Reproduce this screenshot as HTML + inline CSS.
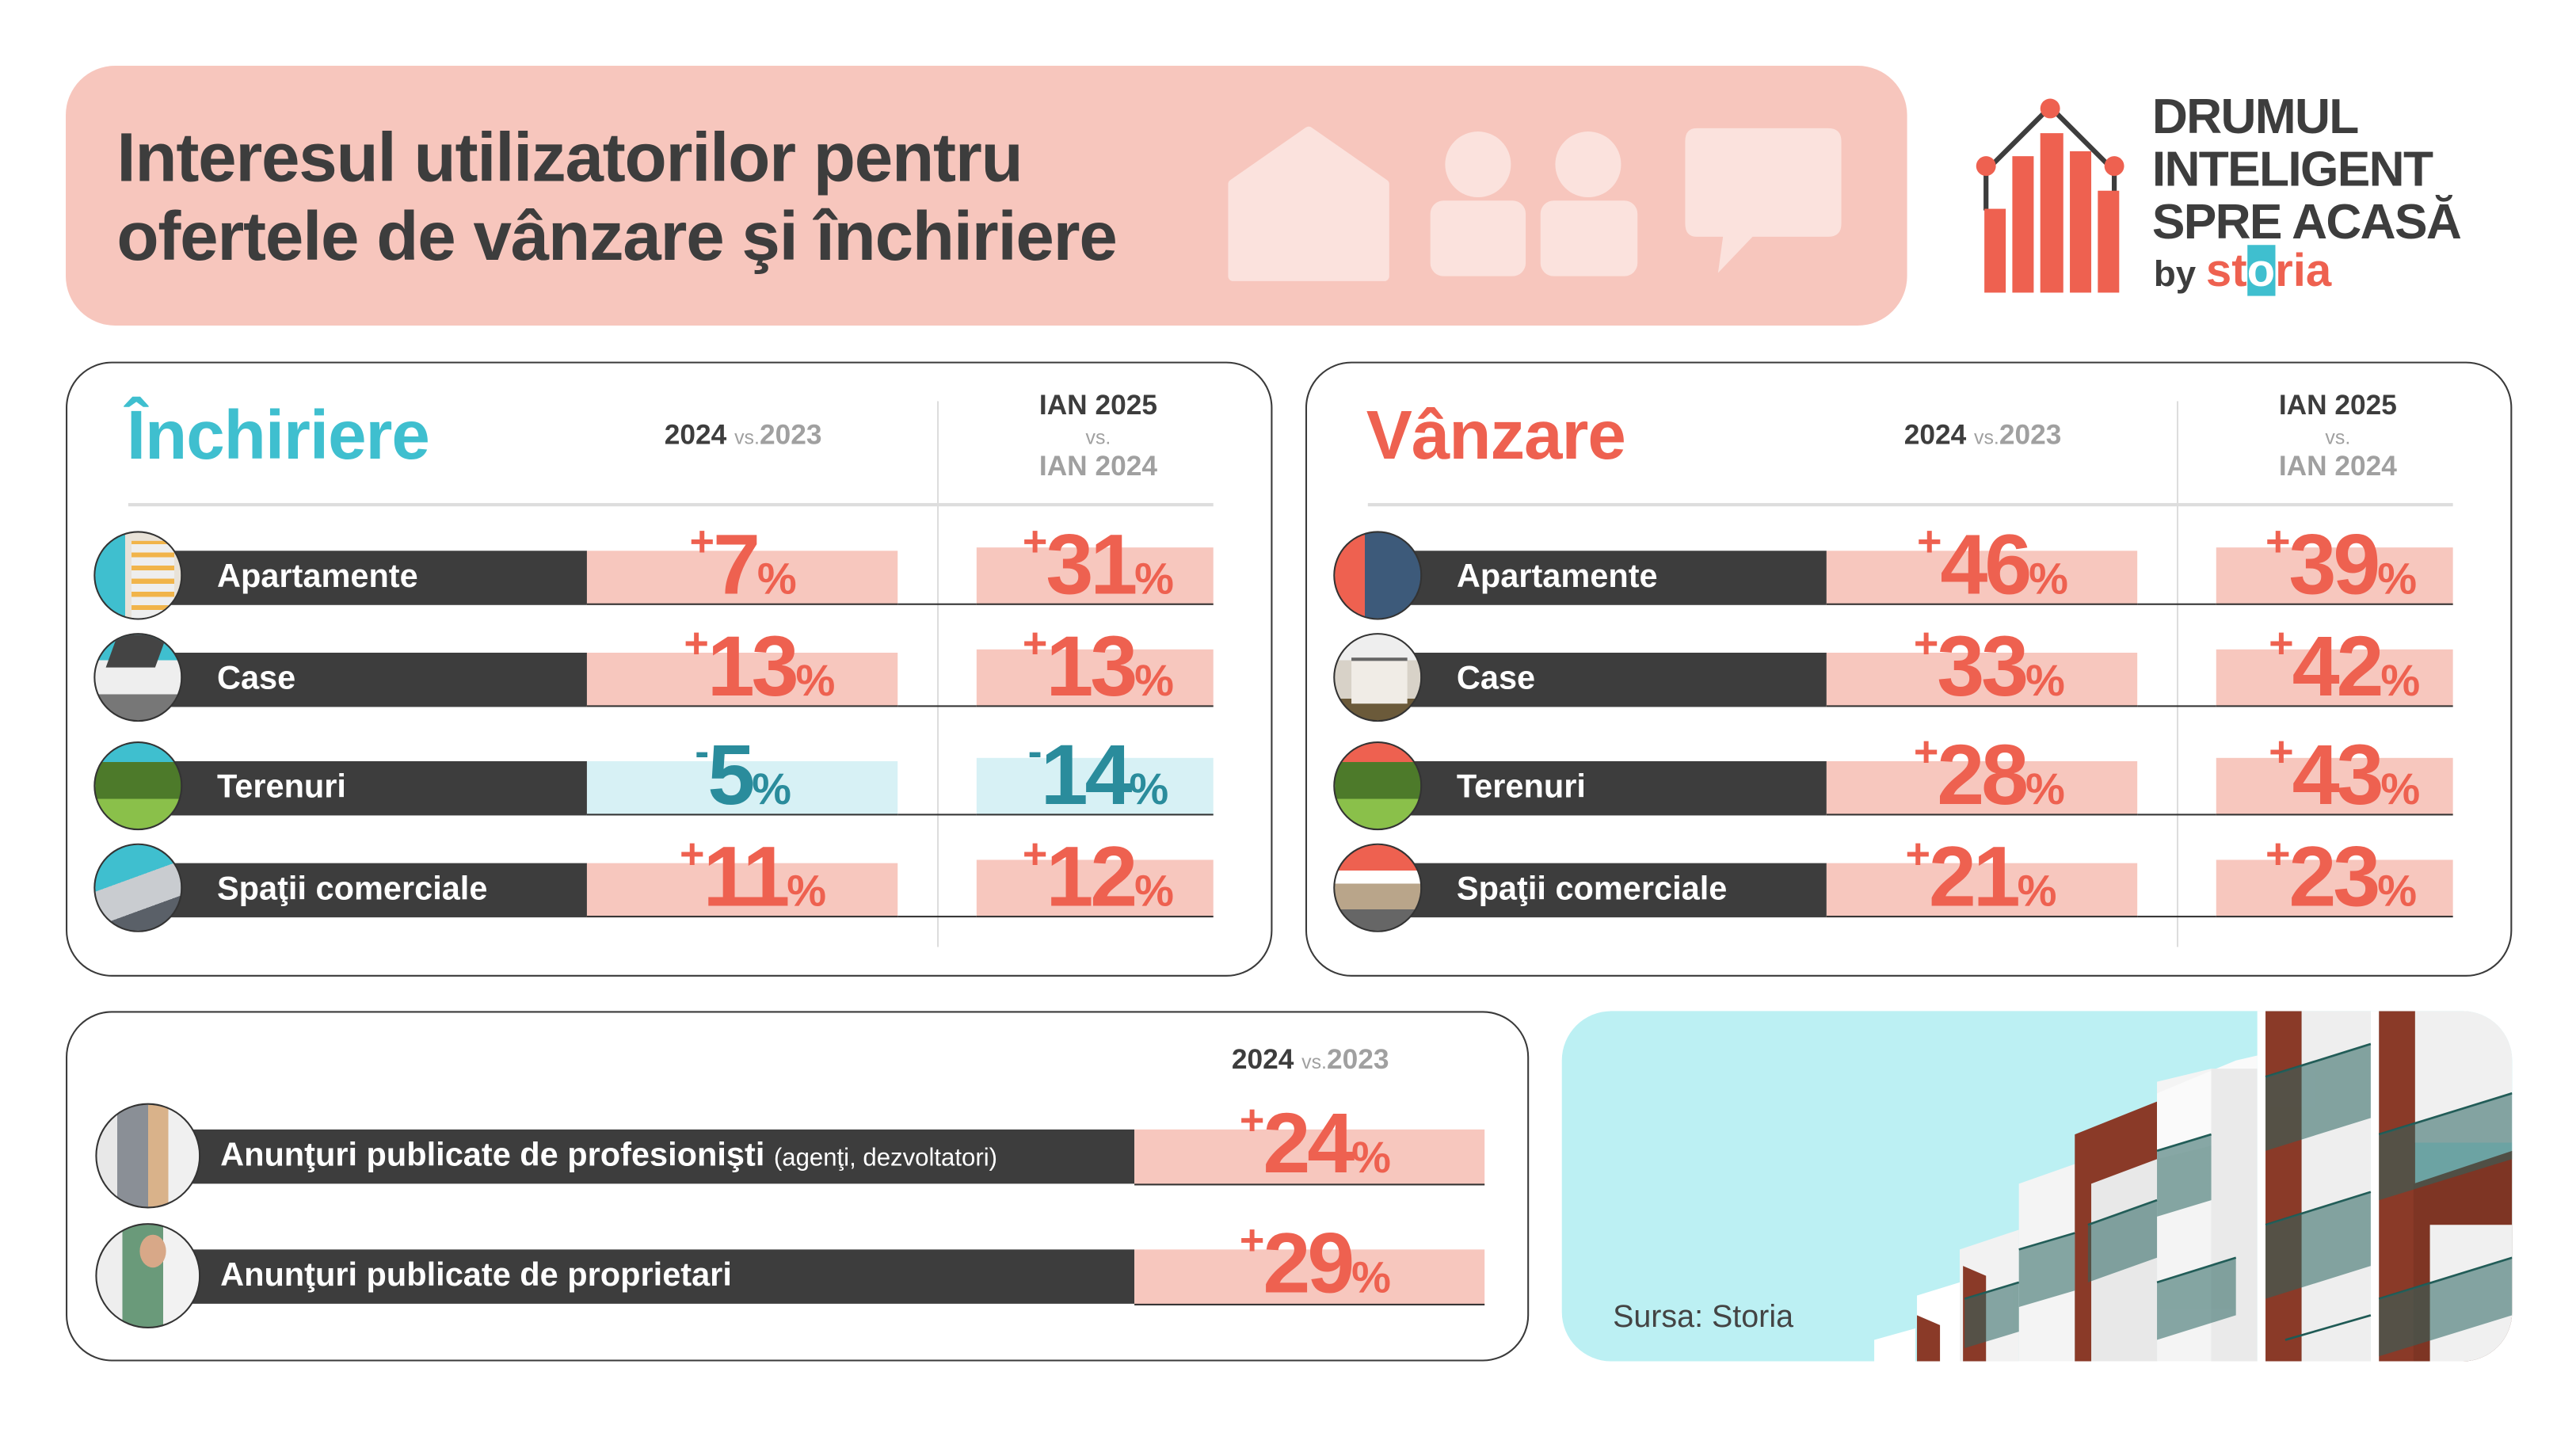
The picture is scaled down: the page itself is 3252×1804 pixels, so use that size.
<!DOCTYPE html>
<html><head><meta charset="utf-8">
<style>
html,body{margin:0;padding:0;background:#fff;}
body{width:3252px;height:1803px;overflow:hidden;position:relative;}
#w{position:absolute;left:0;top:0;width:1567px;height:869px;transform-origin:0 0;transform:scale(2.0755,2.0755);font-family:"Liberation Sans","DejaVu Sans",sans-serif;}
.a{position:absolute;}
.panel{position:absolute;border:1.5px solid #3a3a3a;border-radius:28px;box-sizing:border-box;}
.bar{position:absolute;background:#3d3d3d;height:33px;color:#fff;font-weight:bold;font-size:20px;line-height:33px;padding-left:32px;box-sizing:border-box;white-space:nowrap;}
.pk{position:absolute;background:#f7c7be;height:33px;border-bottom:1.5px solid #333;box-sizing:border-box;}
.bl{position:absolute;background:#d7f1f5;height:33px;border-bottom:1.5px solid #333;box-sizing:border-box;}
.val{position:absolute;transform:translateX(-50%);color:#ee6150;font-weight:bold;white-space:nowrap;line-height:1;display:flex;align-items:baseline;letter-spacing:-2px;}
.val .s{font-size:26px;align-self:flex-start;margin-top:-2px;margin-right:1px;}
.val .n{font-size:52px;}
.val .p{font-size:27px;letter-spacing:0;}
.neg{color:#2a8c9c;}
.circ{position:absolute;border-radius:50%;border:1.5px solid #333;box-sizing:border-box;overflow:hidden;}
.hd{position:absolute;font-size:17px;font-weight:bold;color:#3d3d3d;text-align:center;transform:translateX(-50%);white-space:nowrap;line-height:18px;}
.g{color:#a0a0a0;}
.vs{font-size:12px;font-weight:normal;color:#a0a0a0;}
</style></head><body><div id="w">

<!-- header -->
<div class="a" style="left:40px;top:40px;width:1120px;height:158px;background:#f7c6bd;border-radius:30px;"></div>
<div class="a" style="left:71px;top:72px;font-size:42px;font-weight:bold;color:#3d3d3d;line-height:48px;letter-spacing:-0.6px;">Interesul utilizatorilor pentru<br>ofertele de vânzare şi închiriere</div>
<svg class="a" style="left:740px;top:70px" width="400" height="110" viewBox="0 0 400 110">
 <path d="M10 42 L56 10 L102 42 L102 98 L10 98 Z" fill="#fbe2dd" stroke="#fbe2dd" stroke-width="6" stroke-linejoin="round"/>
 <circle cx="159" cy="30" r="20" fill="#fbe2dd"/><rect x="130" y="52" width="58" height="46" rx="8" fill="#fbe2dd"/>
 <circle cx="226" cy="30" r="20" fill="#fbe2dd"/><rect x="197" y="52" width="59" height="46" rx="8" fill="#fbe2dd"/>
 <path d="M292 8 H372 Q380 8 380 16 V66 Q380 74 372 74 H326 L305 96 L308 74 H292 Q285 74 285 66 V16 Q285 8 292 8 Z" fill="#fbe2dd"/>
</svg>

<!-- logo -->
<svg class="a" style="left:1200px;top:58px" width="100" height="125" viewBox="0 0 100 125">
 <polyline points="8,46 47,7 86,46" fill="none" stroke="#3d3d3d" stroke-width="3"/>
 <line x1="8" y1="46" x2="8" y2="70" stroke="#3d3d3d" stroke-width="3"/>
 <line x1="86" y1="46" x2="86" y2="67" stroke="#3d3d3d" stroke-width="3"/>
 <circle cx="47" cy="8" r="6" fill="#ee6150"/><circle cx="8" cy="43" r="6" fill="#ee6150"/><circle cx="86" cy="43" r="6" fill="#ee6150"/>
 <rect x="7" y="69" width="13" height="51" fill="#ee6150"/>
 <rect x="24" y="37" width="13" height="83" fill="#ee6150"/>
 <rect x="41" y="23" width="14" height="97" fill="#ee6150"/>
 <rect x="59" y="34" width="13" height="86" fill="#ee6150"/>
 <rect x="76" y="58" width="13" height="62" fill="#ee6150"/>
</svg>
<div class="a" style="left:1309px;top:56px;font-size:30px;font-weight:bold;color:#3d3d3d;line-height:32px;letter-spacing:-0.8px;">DRUMUL<br>INTELIGENT<br>SPRE ACASĂ</div>
<div class="a" style="left:1310px;top:150px;font-size:22px;font-weight:bold;color:#3d3d3d;line-height:30px;">by <span style="color:#ee6150;font-size:28px;">st<span style="background:#3fbfcf;color:#fff;">o</span>ria</span></div>

<!-- panel 1 -->
<div class="panel" style="left:40px;top:220px;width:734px;height:374px;"></div>
<div class="a" style="left:77px;top:240px;font-size:42px;font-weight:bold;color:#3fbfcf;line-height:50px;letter-spacing:-0.5px;">Închiriere</div>
<div class="hd" style="left:452px;top:256px;">2024 <span class="vs">vs.</span><span class="g">2023</span></div>
<div class="hd" style="left:668px;top:238px;">IAN 2025<br><span class="vs">vs.</span><br><span class="g">IAN 2024</span></div>
<div class="a" style="left:570px;top:244px;width:1px;height:332px;background:#ddd;"></div>
<div class="a" style="left:78px;top:306px;width:660px;height:1.5px;background:#ddd;"></div>

<!-- panel 2 -->
<div class="panel" style="left:794px;top:220px;width:734px;height:374px;"></div>
<div class="a" style="left:831px;top:240px;font-size:42px;font-weight:bold;color:#ee6150;line-height:50px;letter-spacing:-0.5px;">Vânzare</div>
<div class="hd" style="left:1206px;top:256px;">2024 <span class="vs">vs.</span><span class="g">2023</span></div>
<div class="hd" style="left:1422px;top:238px;">IAN 2025<br><span class="vs">vs.</span><br><span class="g">IAN 2024</span></div>
<div class="a" style="left:1324px;top:244px;width:1px;height:332px;background:#ddd;"></div>
<div class="a" style="left:832px;top:306px;width:660px;height:1.5px;background:#ddd;"></div>

<!-- panel1 rows -->
<div class="bar" style="left:100px;top:335px;width:257px;">Apartamente</div>
<div class="pk" style="left:357px;top:335px;width:189px;"></div><div class="pk" style="left:594px;top:333px;width:144px;height:35px;"></div>
<div class="a" style="left:546px;top:366.5px;width:48px;height:1.5px;background:#333"></div>
<div class="val" style="left:452px;top:318px;"><span class="s">+</span><span class="n">7</span><span class="p">%</span></div>
<div class="val" style="left:668px;top:318px;"><span class="s">+</span><span class="n">31</span><span class="p">%</span></div>

<div class="bar" style="left:100px;top:397px;width:257px;">Case</div>
<div class="pk" style="left:357px;top:397px;width:189px;"></div><div class="pk" style="left:594px;top:395px;width:144px;height:35px;"></div>
<div class="a" style="left:546px;top:428.5px;width:48px;height:1.5px;background:#333"></div>
<div class="val" style="left:462px;top:380px;"><span class="s">+</span><span class="n">13</span><span class="p">%</span></div>
<div class="val" style="left:668px;top:380px;"><span class="s">+</span><span class="n">13</span><span class="p">%</span></div>

<div class="bar" style="left:100px;top:463px;width:257px;">Terenuri</div>
<div class="bl" style="left:357px;top:463px;width:189px;"></div><div class="bl" style="left:594px;top:461px;width:144px;height:35px;"></div>
<div class="a" style="left:546px;top:494.5px;width:48px;height:1.5px;background:#333"></div>
<div class="val neg" style="left:452px;top:446px;"><span class="s">-</span><span class="n">5</span><span class="p">%</span></div>
<div class="val neg" style="left:668px;top:446px;"><span class="s">-</span><span class="n">14</span><span class="p">%</span></div>

<div class="bar" style="left:100px;top:525px;width:257px;">Spaţii comerciale</div>
<div class="pk" style="left:357px;top:525px;width:189px;"></div><div class="pk" style="left:594px;top:523px;width:144px;height:35px;"></div>
<div class="a" style="left:546px;top:556.5px;width:48px;height:1.5px;background:#333"></div>
<div class="val" style="left:458px;top:508px;"><span class="s">+</span><span class="n">11</span><span class="p">%</span></div>
<div class="val" style="left:668px;top:508px;"><span class="s">+</span><span class="n">12</span><span class="p">%</span></div>

<!-- panel2 rows -->
<div class="bar" style="left:854px;top:335px;width:257px;">Apartamente</div>
<div class="pk" style="left:1111px;top:335px;width:189px;"></div><div class="pk" style="left:1348px;top:333px;width:144px;height:35px;"></div>
<div class="a" style="left:1300px;top:366.5px;width:48px;height:1.5px;background:#333"></div>
<div class="val" style="left:1212px;top:318px;"><span class="s">+</span><span class="n">46</span><span class="p">%</span></div>
<div class="val" style="left:1424px;top:318px;"><span class="s">+</span><span class="n">39</span><span class="p">%</span></div>

<div class="bar" style="left:854px;top:397px;width:257px;">Case</div>
<div class="pk" style="left:1111px;top:397px;width:189px;"></div><div class="pk" style="left:1348px;top:395px;width:144px;height:35px;"></div>
<div class="a" style="left:1300px;top:428.5px;width:48px;height:1.5px;background:#333"></div>
<div class="val" style="left:1210px;top:380px;"><span class="s">+</span><span class="n">33</span><span class="p">%</span></div>
<div class="val" style="left:1426px;top:380px;"><span class="s">+</span><span class="n">42</span><span class="p">%</span></div>

<div class="bar" style="left:854px;top:463px;width:257px;">Terenuri</div>
<div class="pk" style="left:1111px;top:463px;width:189px;"></div><div class="pk" style="left:1348px;top:461px;width:144px;height:35px;"></div>
<div class="a" style="left:1300px;top:494.5px;width:48px;height:1.5px;background:#333"></div>
<div class="val" style="left:1210px;top:446px;"><span class="s">+</span><span class="n">28</span><span class="p">%</span></div>
<div class="val" style="left:1426px;top:446px;"><span class="s">+</span><span class="n">43</span><span class="p">%</span></div>

<div class="bar" style="left:854px;top:525px;width:257px;">Spaţii comerciale</div>
<div class="pk" style="left:1111px;top:525px;width:189px;"></div><div class="pk" style="left:1348px;top:523px;width:144px;height:35px;"></div>
<div class="a" style="left:1300px;top:556.5px;width:48px;height:1.5px;background:#333"></div>
<div class="val" style="left:1205px;top:508px;"><span class="s">+</span><span class="n">21</span><span class="p">%</span></div>
<div class="val" style="left:1424px;top:508px;"><span class="s">+</span><span class="n">23</span><span class="p">%</span></div>

<!-- circles panel1 & 2 -->
<div class="circ" style="left:57px;top:323px;width:54px;height:54px;background:linear-gradient(90deg,#3fbfcf 0 35%,#e8e2d8 35% 100%);"><div class="a" style="left:22px;top:5px;width:26px;height:50px;background:repeating-linear-gradient(0deg,#f1b44a 0 3px,#eee 3px 8px);"></div></div>
<div class="circ" style="left:57px;top:385px;width:54px;height:54px;background:linear-gradient(180deg,#3fbfcf 0 30%,#eeeeee 30% 70%,#777 70%);"><div class="a" style="left:10px;top:0;width:30px;height:20px;background:#444;transform:skewX(-20deg);"></div></div>
<div class="circ" style="left:57px;top:451px;width:54px;height:54px;background:linear-gradient(180deg,#3fbfcf 0 22%,#4d7a2a 22% 65%,#8ac04a 65%);"></div>
<div class="circ" style="left:57px;top:513px;width:54px;height:54px;background:linear-gradient(160deg,#3fbfcf 0 40%,#c9ccd0 40% 70%,#5a6068 70%);"></div>

<div class="circ" style="left:811px;top:323px;width:54px;height:54px;background:linear-gradient(90deg,#ee6150 0 35%,#3d5a7a 35% 100%);"></div>
<div class="circ" style="left:811px;top:385px;width:54px;height:54px;background:linear-gradient(180deg,#eee 0 30%,#d8d2c8 30% 75%,#6b5a3a 75%);"><div class="a" style="left:10px;top:14px;width:34px;height:26px;background:#f0ece6;border-top:2px solid #666;"></div></div>
<div class="circ" style="left:811px;top:451px;width:54px;height:54px;background:linear-gradient(180deg,#ee6150 0 22%,#4d7a2a 22% 65%,#8ac04a 65%);"></div>
<div class="circ" style="left:811px;top:513px;width:54px;height:54px;background:linear-gradient(180deg,#ee6150 0 30%,#fff 30% 45%,#b9a58a 45% 75%,#666 75%);"></div>

<!-- panel 3 -->
<div class="panel" style="left:40px;top:615px;width:890px;height:213px;"></div>
<div class="hd" style="left:797px;top:636px;">2024 <span class="vs">vs.</span><span class="g">2023</span></div>
<div class="bar" style="left:100px;top:687px;width:590px;padding-left:34px;">Anunţuri publicate de profesionişti <span style="font-weight:normal;font-size:15px;">(agenţi, dezvoltatori)</span></div>
<div class="pk" style="left:690px;top:687px;width:213px;height:34px;"></div>
<div class="val" style="left:800px;top:670px;"><span class="s">+</span><span class="n">24</span><span class="p">%</span></div>
<div class="bar" style="left:100px;top:760px;width:590px;padding-left:34px;">Anunţuri publicate de proprietari</div>
<div class="pk" style="left:690px;top:760px;width:213px;height:34px;"></div>
<div class="val" style="left:800px;top:743px;"><span class="s">+</span><span class="n">29</span><span class="p">%</span></div>
<div class="circ" style="left:58px;top:671px;width:64px;height:64px;background:linear-gradient(90deg,#e8e8e8 0 20%,#8a8f96 20% 50%,#d9b28a 50% 70%,#f0f0f0 70%);"></div>
<div class="circ" style="left:58px;top:744px;width:64px;height:64px;background:linear-gradient(90deg,#eee 0 25%,#6a9a7a 25% 65%,#f2f2f2 65%);"><div class="a" style="left:26px;top:6px;width:16px;height:20px;border-radius:50%;background:#d8a888;"></div></div>

<!-- photo -->
<div class="a" style="left:950px;top:615px;width:578px;height:213px;border-radius:30px;overflow:hidden;background:#bcf0f3;">
<svg width="578" height="213" viewBox="0 0 578 213" style="position:absolute;left:0;top:0">
 <g transform="translate(-950,-615)">
 <polygon points="1140,828 1140,815 1165,808 1165,828" fill="#fff"/>
 <polygon points="1166,828 1166,788 1192,780 1192,828" fill="#fff"/>
 <polygon points="1166,828 1166,800 1180,806 1180,828" fill="#8a3a28"/>
 <polygon points="1192,828 1192,760 1228,748 1228,828" fill="#f2f2f2"/>
 <polygon points="1194,828 1194,770 1208,776 1208,828" fill="#8a3a28"/>
 <polygon points="1228,828 1228,720 1262,708 1262,828" fill="#f4f4f4"/>
 <polygon points="1262,828 1262,690 1312,670 1312,828" fill="#8a3a28"/>
 <polygon points="1272,828 1272,720 1312,705 1312,828" fill="#e8e8e8"/>
 <polygon points="1312,828 1312,658 1345,650 1345,828" fill="#f4f4f4"/>
 <polygon points="1312,665 1360,645 1373,642 1373,690 1312,705" fill="#fafafa"/>
 <rect x="1345" y="650" width="28" height="178" fill="#eaeaea"/>
 <rect x="1373" y="615" width="5" height="213" fill="#fff"/>
 <rect x="1378" y="615" width="22" height="213" fill="#8a3a28"/>
 <rect x="1400" y="615" width="42" height="213" fill="#eeeeee"/>
 <rect x="1442" y="615" width="5" height="213" fill="#fff"/>
 <rect x="1447" y="615" width="22" height="213" fill="#8a3a28"/>
 <polygon points="1468,720 1528,700 1528,828 1468,828" fill="#7e3524"/>
 <rect x="1478" y="745" width="50" height="83" fill="#f0f0f0"/>
 <rect x="1469" y="615" width="59" height="80" fill="#f0f0f0"/>
 <g stroke="#1f5a55" stroke-width="1.3">
  <line x1="1195" y1="790" x2="1228" y2="780"/>
  <line x1="1228" y1="760" x2="1262" y2="750"/>
  <line x1="1270" y1="745" x2="1312" y2="730"/>
  <line x1="1312" y1="700" x2="1345" y2="690"/>
  <line x1="1312" y1="780" x2="1360" y2="765"/>
  <line x1="1378" y1="655" x2="1442" y2="635"/>
  <line x1="1378" y1="745" x2="1442" y2="725"/>
  <line x1="1447" y1="690" x2="1528" y2="665"/>
  <line x1="1447" y1="790" x2="1528" y2="765"/>
  <line x1="1390" y1="815" x2="1442" y2="800"/>
 </g>
 <g fill="#2a6560" opacity="0.55">
  <polygon points="1378,655 1442,635 1442,680 1378,700"/>
  <polygon points="1378,745 1442,725 1442,770 1378,790"/>
  <polygon points="1447,690 1528,665 1528,705 1447,730"/>
  <polygon points="1447,790 1528,765 1528,800 1447,825"/>
  <polygon points="1312,700 1345,690 1345,730 1312,740"/>
  <polygon points="1312,780 1360,765 1360,800 1312,815"/>
  <polygon points="1270,745 1312,730 1312,765 1270,780"/>
  <polygon points="1228,760 1262,750 1262,785 1228,795"/>
  <polygon points="1195,790 1228,780 1228,810 1195,820"/>
 </g>
 </g>
</svg>
<div class="a" style="left:31px;top:176px;font-size:19px;color:#444;">Sursa: Storia</div>
</div>

</div></body></html>
